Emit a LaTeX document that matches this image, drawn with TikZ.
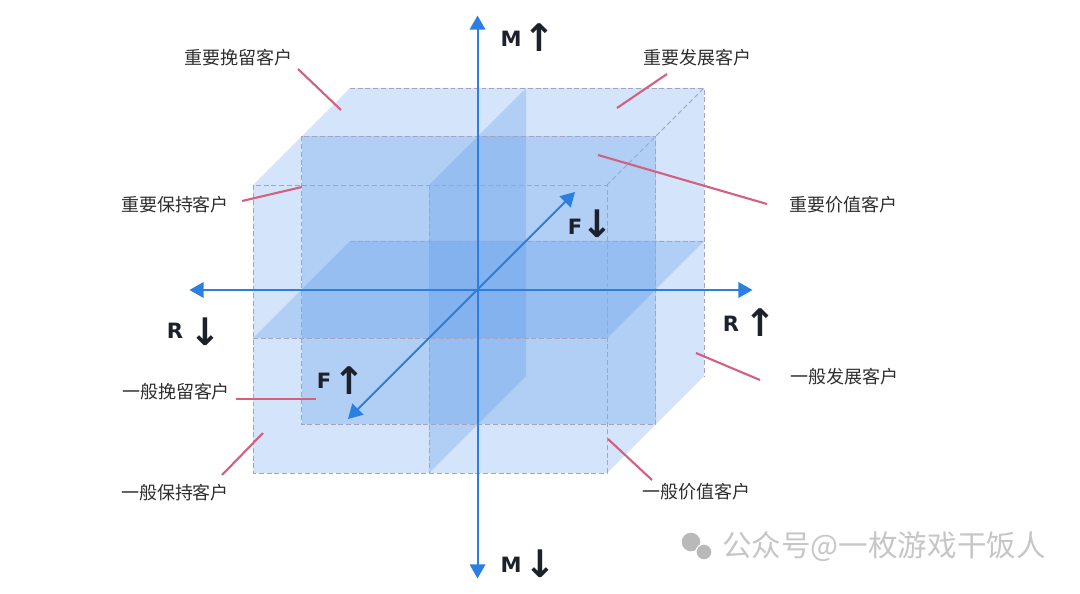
\documentclass[tikz,border=0pt]{standalone}
\usepackage{fontspec}
\newfontfamily\cjk{Noto Sans CJK SC}
\newfontfamily\axfont{DejaVu Sans}
\usetikzlibrary{arrows.meta}
\definecolor{boxfill}{HTML}{D4E4FA}
\definecolor{planefill}{HTML}{4A90E8}
\definecolor{edgegray}{HTML}{A3A3C2}
\definecolor{axisblue}{HTML}{2A7FE0}
\definecolor{leadpink}{HTML}{D2607E}
\definecolor{labgray}{HTML}{2E2E2E}
\definecolor{inkdark}{HTML}{1C212C}
\begin{document}
\begin{tikzpicture}[x=0.025cm,y=-0.025cm,z={(2.425cm,2.425cm)},
	plane/.style={fill=planefill,fill opacity=0.25},
	edge/.style={edgegray,dash pattern=on 3.5pt off 2pt,line width=0.6pt},
	axis/.style={axisblue,line width=1.4pt,{Triangle[length=10pt,width=11pt]}-{Triangle[length=10pt,width=11pt]}},
	leader/.style={leadpink,line width=1.5pt},
	lab/.style={font=\cjk\fontsize{12.8}{15}\selectfont,text=labgray},
	ax/.style={font=\axfont\bfseries\fontsize{15}{17}\selectfont,text=inkdark},
	arr/.style={font=\axfont\bfseries\fontsize{27}{29}\selectfont,text=inkdark}]
	
	\useasboundingbox (0,0) rectangle (1080,593);
	
	\fill[boxfill] (253,185,0) -- (253,185,1) -- (607,185,1) -- (607,473,1) -- (607,473,0) -- (253,473,0) -- cycle;
	\fill[plane] (253,338,0) -- (607,338,0) -- (607,338,1) -- (253,338,1) -- cycle;
	\fill[plane] (429,185,0) -- (429,473,0) -- (429,473,1) -- (429,185,1) -- cycle;
	\fill[plane] (253,185,0.5) rectangle (607,473,0.5);
	
	\draw[edge] (253,185,0) rectangle (607,473,0);
	\draw[edge] (253,185,0.5) rectangle (607,473,0.5);
	\draw[edge] (253,185,1) -- (607,185,1) -- (607,473,1);
	\draw[edge] (607,185,0) -- (607,185,1);
	\draw[edge] (253,338,0) -- (607,338,0);
	\draw[edge] (253,338,1) -- (607,338,1);
	\draw[edge] (429,185,0) -- (429,473,0);
	
	\coordinate (O) at (429,338,0.5);
	\coordinate (Mtop) at (429,64,0.5);
	\coordinate (Mbot) at (429,627,0.5);
	\coordinate (Rleft) at (141,338.5,0.5);
	\coordinate (Rright) at (704,338.5,0.5);
	\coordinate (Ffront) at (429,338,-0.835);
	\coordinate (Fback) at (429,338,1.505);
	\draw[axis] (Mbot) -- (Mtop);
	\draw[axis] (Rleft) -- (Rright);
	\draw[axis] (Ffront) -- (Fback);
	
	\foreach [count=\i] \t/\x/\y in {重要挽留客户/238/58,重要发展客户/697/58,重要保持客户/175/205,重要价值客户/843/205,一般挽留客户/176/392,一般发展客户/844/377,一般保持客户/175/493,一般价值客户/696/492}{
		\node[lab] (seg\i) at (\x,\y) {\t};
	}
	\foreach [count=\i] \ax/\ay/\bx/\by in {298/69/341/110,667/74/617/108,242/201/302/187,598/155/767/204,236/399/316/399,696/353/760/380,263/433/222/475,608/439/652/480}{
		\coordinate (p\i) at (\ax,\ay);
		\coordinate (q\i) at (\bx,\by);
		\draw[leader] (p\i) -- (q\i);
	}
	
	\node[ax] (Mup) at (511,39) {M};
	\node[arr] (Mupa) at (539,38) {↑};
	\node[ax] (Mdn) at (511,565) {M};
	\node[arr] (Mdna) at (540,564) {↓};
	\node[ax] (Rdn) at (175,331) {R};
	\node[arr] (Rdna) at (205,332) {↓};
	\node[ax] (Rup) at (731,324) {R};
	\node[arr] (Rupa) at (760,323) {↑};
	\node[ax] (Fdn) at (575,227) {F};
	\node[arr] (Fdna) at (597,224) {↓};
	\node[ax] (Fup) at (324,381) {F};
	\node[arr] (Fupa) at (349,381) {↑};
	
	\fill[gray!55,draw=white,line width=0.8pt] (691,542) circle (10);
	\fill[gray!55,draw=white,line width=0.8pt] (704,552) circle (8);
	\node[font=\cjk\fontsize{21}{23}\selectfont,text=gray!45] (wm) at (884,547) {公众号@一枚游戏干饭人};
\end{tikzpicture}
\end{document}
